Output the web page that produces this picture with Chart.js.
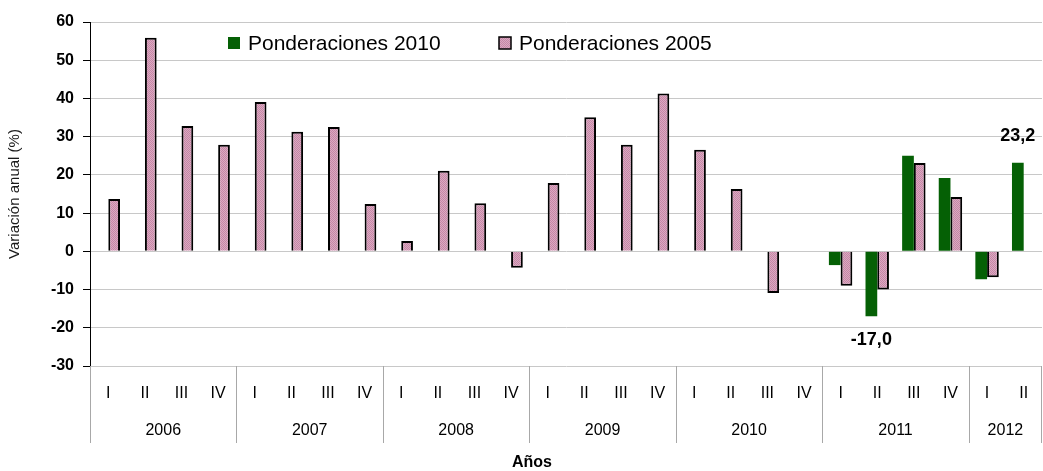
<!DOCTYPE html>
<html>
<head>
<meta charset="utf-8">
<script src="https://cdn.jsdelivr.net/npm/chart.js@4/dist/chart.umd.min.js"></script>
<style>
  html, body { margin: 0; padding: 0; background: #fff; }
  #wrap { width: 1043px; height: 471px; }
</style>
</head>
<body>
<div id="wrap"><canvas id="chart" width="1043" height="471"></canvas></div>
<script>
// Quarters on the x axis, grouped by year
const quarters = [
    'I', 'II', 'III', 'IV',
    'I', 'II', 'III', 'IV',
    'I', 'II', 'III', 'IV',
    'I', 'II', 'III', 'IV',
    'I', 'II', 'III', 'IV',
    'I', 'II', 'III', 'IV',
    'I', 'II'
];
const years = ['2006', '2007', '2008', '2009', '2010', '2011', '2012'];
const yearSpan = [4, 4, 4, 4, 4, 4, 2];

// Variación anual (%)
const pond2010 = [
    null, null, null, null,
    null, null, null, null,
    null, null, null, null,
    null, null, null, null,
    null, null, null, null,
    -3.6, -17.0, 25.0, 19.2,
    -7.3, 23.2
];
const pond2005 = [
    13.7, 55.9, 32.8, 27.9,
    39.1, 31.3, 32.5, 12.4,
    2.7, 21.1, 12.6, -4.3,
    17.9, 35.1, 27.9, 41.3,
    26.6, 16.3, -10.9, null,
    -9.0, -10.0, 23.1, 14.2,
    -6.8, null
];
const labelledPoints = [21, 25]; // values written next to the 2010 bars

const yTicks = { min: -30, max: 60, step: 10 };

const FONT = '"Liberation Sans", Arial, sans-serif';

function makeHatch() {
    const c = document.createElement('canvas');
    c.width = 2;
    c.height = 2;
    const g = c.getContext('2d');
    g.fillStyle = '#dba9c1';
    g.fillRect(0, 0, 2, 2);
    g.fillStyle = '#c587a6';
    g.fillRect(0, 0, 1, 1);
    g.fillRect(1, 1, 1, 1);
    return g.createPattern(c, 'repeat');
}

const hatch = makeHatch();
const green = '#056005';

const extras = {
    id: 'extras',
    afterDraw(chart) {
        const { ctx, chartArea, scales } = chart;
        const x = scales.x;
        const step = x.getPixelForValue(1) - x.getPixelForValue(0);
        ctx.save();

        // year separators and year labels under the quarters
        ctx.strokeStyle = '#a8a8a8';
        ctx.lineWidth = 1;
        ctx.fillStyle = '#000';
        ctx.font = '16px ' + FONT;
        ctx.textAlign = 'center';
        ctx.textBaseline = 'middle';
        const top = chartArea.bottom;
        const bottom = chartArea.bottom + 77;
        let start = 0;
        yearSpan.forEach((n, k) => {
            const x0 = Math.max(chartArea.left, x.getPixelForValue(start) - step / 2);
            const x1 = Math.min(chartArea.right, x.getPixelForValue(start + n - 1) + step / 2);
            ctx.beginPath();
            ctx.moveTo(Math.round(x0) + 0.5, top);
            ctx.lineTo(Math.round(x0) + 0.5, bottom);
            if (k === yearSpan.length - 1) {
                ctx.moveTo(Math.round(x1) - 0.5, top);
                ctx.lineTo(Math.round(x1) - 0.5, bottom);
            }
            ctx.stroke();
            ctx.fillText(years[k], (x0 + x1) / 2, chartArea.bottom + 65);
            start += n;
        });

        // axis title
        ctx.font = 'bold 16px ' + FONT;
        ctx.fillText('Años', (chartArea.left + chartArea.right) / 2 - 34, 463);

        // value labels
        ctx.font = 'bold 18px ' + FONT;
        const meta = chart.getDatasetMeta(0);
        labelledPoints.forEach(i => {
            const bar = meta.data[i];
            const v = pond2010[i];
            const y = v < 0 ? bar.y + 24 : bar.y - 27;
            ctx.fillText(v.toFixed(1).replace('.', ','), bar.x, y);
        });

        // legend inside the plot
        ctx.font = '21px ' + FONT;
        ctx.textAlign = 'left';
        const legendX = [chartArea.left + 138, chartArea.left + 409];
        chart.data.datasets.forEach((ds, i) => {
            const lx = legendX[i];
            const ly = 43;
            ctx.fillStyle = ds.backgroundColor;
            ctx.fillRect(lx, ly - 6, 12, 12);
            if (ds.borderWidth) {
                ctx.strokeStyle = '#000';
                ctx.lineWidth = 1.5;
                ctx.strokeRect(lx, ly - 6, 12, 12);
            }
            ctx.fillStyle = '#000';
            ctx.fillText(ds.label, lx + 20, ly + 1);
        });

        ctx.restore();
    }
};

new Chart(document.getElementById('chart'), {
    type: 'bar',
    data: {
        labels: quarters,
        datasets: [{
            label: 'Ponderaciones 2010',
            data: pond2010,
            backgroundColor: green,
            borderWidth: 0
        }, {
            label: 'Ponderaciones 2005',
            data: pond2005,
            backgroundColor: hatch,
            borderColor: '#000',
            borderWidth: 2
        }]
    },
    options: {
        responsive: false,
        animation: false,
        categoryPercentage: 0.64,
        barPercentage: 1,
        layout: { padding: { top: 22, right: 1, left: 0, bottom: 0 } },
        plugins: {
            legend: { display: false },
            tooltip: { enabled: false }
        },
        scales: {
            x: {
                grid: { display: false },
                border: { display: false },
                ticks: {
                    color: '#000',
                    font: { family: FONT, size: 16 },
                    padding: 10,
                    maxRotation: 0,
                    autoSkip: false
                },
                afterFit: scale => { scale.height = 105; }
            },
            y: {
                min: yTicks.min,
                max: yTicks.max,
                ticks: {
                    stepSize: yTicks.step,
                    color: '#000',
                    padding: 9,
                    font: { family: FONT, size: 16, weight: 'bold' }
                },
                grid: {
                    color: '#c8c8c8',
                    tickColor: '#000',
                    tickLength: 7
                },
                border: { color: '#000', width: 1 },
                title: {
                    display: true,
                    text: 'Variación anual (%)',
                    color: '#1a1a1a',
                    font: { family: FONT, size: 15 },
                    padding: { top: 6, bottom: 0 }
                },
                afterFit: scale => { scale.width = 90; }
            }
        }
    },
    plugins: [extras]
});
</script>
</body>
</html>
